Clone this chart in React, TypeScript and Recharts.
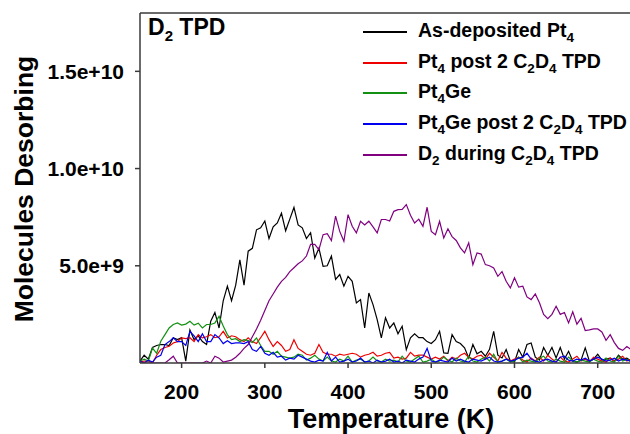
import { Legend, Line, LineChart, ReferenceLine, XAxis, YAxis } from "recharts";

// temperature grid (K)
const temps = [
  150, 155, 160, 165, 170, 175, 180, 185, 190, 195,
  200, 205, 210, 215, 220, 225, 230, 235, 240, 245,
  250, 255, 260, 265, 270, 275, 280, 285, 290, 295,
  300, 305, 310, 315, 320, 325, 330, 335, 340, 345,
  350, 355, 360, 365, 370, 375, 380, 385, 390, 395,
  400, 405, 410, 415, 420, 425, 430, 435, 440, 445,
  450, 455, 460, 465, 470, 475, 480, 485, 490, 495,
  500, 505, 510, 515, 520, 525, 530, 535, 540, 545,
  550, 555, 560, 565, 570, 575, 580, 585, 590, 595,
  600, 605, 610, 615, 620, 625, 630, 635, 640, 645,
  650, 655, 660, 665, 670, 675, 680, 685, 690, 695,
  700, 705, 710, 715, 720, 725, 730, 735, 740,
];

// molecules desorbing, in units of 1e9
const asDeposited = [
  0.1, 0.4, 0.2, 0.8, 0.9, 0.95, 0.95, 0.9, 1.3, 1.2,
  1.3, 0.1, 1.7, 1.2, 1.4, 1.1, 0.95, 2.15, 2.6, 1.8,
  3.2, 3.95, 3.2, 4.0, 5.3, 4.0, 5.75, 5.9, 6.85, 6.95,
  7.3, 6.4, 7.0, 7.2, 7.7, 6.8, 7.4, 8.0, 7.1, 6.95,
  6.4, 6.7, 5.4, 5.9, 4.97, 5.0, 5.5, 4.3, 4.55, 3.95,
  4.46, 4.2, 3.09, 3.26, 1.8, 3.6, 3.0, 2.23, 1.29, 2.32,
  1.8, 2.06, 1.5, 1.89, 0.69, 1.29, 1.5, 1.3, 1.3, 1.1,
  1.0, 1.2, 1.63, 0.52, 0.5, 1.46, 1.1, 1.0, 0.78, 0.26,
  0.95, 0.47, 0.6, 0.35, 0.7, 1.63, 0.4, 0.26, 0.69, 0.1,
  0.05, 0.69, 0.3, 0.95, 1.03, 0.3, 0.15, 0.8, 0.4, 0.8,
  0.26, 0.8, 0.2, 0.6, 0.1, 0.05, 0.15, 0.78, 0.1, 0.2,
  0.45, 0.15, 0.2, 0.25, 0.1, 0.4, 0.2, 0.25, 0.1,
];

const pt4Post = [
  0.05, 0.1, 0.1, 0, 0.4, 0.69, 0.8, 0.86, 1.03, 1.1,
  1.29, 1.25, 1.3, 1.1, 1.46, 1.29, 1.35, 1.46, 1.3, 1.35,
  1.63, 1.29, 1.4, 1.35, 1.2, 1.1, 1.29, 1.1, 1.0, 1.3,
  1.63, 1.2, 0.85, 1.1, 0.9, 0.6, 0.69, 1.2, 0.75, 0.6,
  0.45, 0.4, 0.5, 0.95, 0.55, 0.45, 0.45, 0.35, 0.45, 0.4,
  0.45, 0.5, 0.45, 0.3, 0.4, 0.45, 0.55, 0.35, 0.4, 0.5,
  0.55, 0.25, 0.3, 0.2, 0.25, 0.55, 0.35, 0.4, 0.4, 0.3,
  0.2, 0.3, 0.2, 0.35, 0.1, 0.3, 0.2, 0.4, 0.5, 0.3,
  0.2, 0.35, 0.4, 0.2, 0.5, 0.3, 0.1, 0.55, 0.25, 0.1,
  0.2, 0.3, 0.15, 0.05, 0.25, 0.1, 0.3, 0.1, 0.4, 0.2,
  0.05, 0.3, 0.1, 0.05, 0.2, 0.35, 0.1, 0.2, 0.05, 0.3,
  0.2, 0.1, 0.05, 0.25, 0.1, 0.2, 0.35, 0.1, 0.2,
];

const pt4Ge = [
  0.1, 0.2, 0.1, 0.77, 0.5, 1.12, 1.46, 1.8, 1.98, 2.06,
  1.95, 2.0, 2.15, 1.95, 2.05, 1.8, 1.98, 1.98, 2.06, 2.4,
  1.9, 1.46, 1.2, 1.25, 1.1, 1.2, 1.15, 1.05, 1.29, 0.9,
  0.6, 0.6, 0.45, 0.6, 0.35, 0.3, 0.25, 0.3, 0.45, 0.4,
  0.15, 0.25, 0.4, 0.2, 0.1, 0.3, 0.1, 0.05, 0.2, 0.1,
  0.35, 0.05, 0.15, 0.2, 0.05, 0.1, 0.3, 0.1, 0.05, 0.2,
  0.1, 0.15, 0.05, 0.35, 0.1, 0.05, 0.2, 0.35, 0.05, 0.1,
  0.2, 0.05, 0.1, 0.3, 0.15, 0.05, 0.25, 0.1, 0.05, 0.35,
  0.1, 0.05, 0.2, 0.3, 0.1, 0.45, 0.05, 0.1, 0.2, 0.05,
  0.1, 0.3, 0.05, 0.15, 0.1, 0.05, 0.25, 0.35, 0.1, 0.05,
  0.2, 0.1, 0.05, 0.3, 0.1, 0.05, 0.15, 0.1, 0.05, 0.2,
  0.1, 0.05, 0.25, 0.1, 0.05, 0.35, 0.1, 0.2, 0.05,
];

const pt4GePost = [
  0.1, 0, 0.15, 0.05, 0.3, 0.4, 0.95, 1.1, 1.29, 1.1,
  1.1, 0.9, 1.63, 1.4, 1.1, 1.5, 1.1, 1.1, 1.46, 1.29,
  1.0, 1.15, 1.0, 1.03, 1.03, 1.0, 1.1, 0.69, 0.6, 0.85,
  0.5, 0.4, 0.55, 0.3, 0.35, 0.15, 0.25, 0.2, 0.4, 0.3,
  0.2, 0.1, 0.05, 0.15, 0.1, 0.55, 0.1, 0.3, 0.05, 0.1,
  0.2, 0.05, 0.1, 0.25, 0.05, 0.1, 0, 0.15, 0.05, 0.1,
  0.2, 0.05, 0.1, 0, 0.15, 0.1, 0.05, 0.2, 0.3, 0.75,
  0.1, 0.05, 0.15, 0.1, 0.05, 0.25, 0.1, 0.2, 0.1, 0.05,
  0.2, 0.15, 0.1, 0.2, 0.3, 0.1, 0.05, 0.1, 0.2, 0.1,
  0.15, 0.25, 0.3, 0.5, 0.2, 0.1, 0.05, 0.15, 0.2, 0.1,
  0.05, 0.3, 0.35, 0.15, 0.1, 0.2, 0.15, 0.25, 0.1, 0.2,
  0.3, 0.2, 0.1, 0.15, 0.25, 0.1, 0.2, 0.15, 0.1,
];

const d2DuringC2D4 = [
  0, 0, 0, 0, 0, 0, 0, 0.17, 0.35, 0,
  0, 0, 0, 0, 0, 0, 0.1, 0, 0.35, 0.25,
  0.05, 0.1, 0.15, 0.3, 0.5, 0.75, 0.95, 1.35, 1.75, 2.2,
  2.7, 3.2, 3.55, 3.9, 4.2, 4.4, 4.7, 4.9, 5.1, 5.25,
  5.5, 6.1, 6.1, 5.83, 6.6, 6.65, 6.3, 7.55, 6.77, 6.26,
  7.63, 7.03, 6.69, 7.29, 7.1, 7.29, 7.0, 6.69, 7.38, 7.38,
  7.3, 7.8, 7.89, 7.9, 8.15, 7.6, 7.2, 7.4, 7.03, 8.01,
  6.77, 6.6, 7.29, 6.43, 6.9, 6.5, 6.3, 5.92, 5.66, 6.18,
  5.06, 5.66, 5.6, 5.06, 5.0, 4.89, 4.46, 4.7, 4.2, 3.86,
  4.38, 3.9, 3.95, 3.4, 3.26, 3.55, 3.1, 2.5, 2.28, 2.5,
  2.92, 2.5, 2.6, 2.06, 2.63, 2.0, 2.3, 1.67, 1.7, 1.75,
  1.75, 1.6, 1.17, 1.46, 1.05, 0.75, 0.65, 0.85, 0.7,
];

const xTicks = [200, 300, 400, 500, 600, 700];
const yTicks = [5, 10, 15];
const legendRowTops = [16, 47, 77, 108, 139];

const FONT = "'Liberation Sans', Arial, Helvetica, sans-serif";
const AXIS = "#3a3a3a";

const series = [
  { key: "asDeposited", color: "#000000", label: ["As-deposited Pt", "4"] },
  { key: "pt4Post", color: "#ee0000", label: ["Pt", "4", " post 2 C", "2", "D", "4", " TPD"] },
  { key: "pt4Ge", color: "#119011", label: ["Pt", "4", "Ge"] },
  { key: "pt4GePost", color: "#0000ee", label: ["Pt", "4", "Ge post 2 C", "2", "D", "4", " TPD"] },
  { key: "d2", color: "#800080", label: ["D", "2", " during C", "2", "D", "4", " TPD"] },
];

const data = temps.map((t, i) => ({
  t,
  asDeposited: asDeposited[i],
  pt4Post: pt4Post[i],
  pt4Ge: pt4Ge[i],
  pt4GePost: pt4GePost[i],
  d2: d2DuringC2D4[i],
}));

// alternating pieces: normal text, subscript, normal, subscript...
function Rich({ parts }: { parts: string[] }) {
  return (
    <>
      {parts.map((p, i) =>
        i % 2 === 1 ? (
          <span key={i} style={{ fontSize: 13.5, position: "relative", top: 5 }}>
            {p}
          </span>
        ) : (
          <span key={i}>{p}</span>
        ),
      )}
    </>
  );
}

function LegendBox() {
  return (
    <div style={{ position: "relative", width: 630, height: 180, fontFamily: FONT, fontWeight: "bold" }}>
      <div style={{ position: "absolute", left: 148, top: 16, fontSize: 23, lineHeight: 1, whiteSpace: "nowrap" }}>
        D<span style={{ fontSize: 15, position: "relative", top: 6 }}>2</span> TPD
      </div>
      {series.map((s, i) => (
        <div
          key={s.key}
          style={{
            position: "absolute",
            left: 363,
            top: legendRowTops[i],
            height: 30,
            display: "flex",
            alignItems: "center",
            whiteSpace: "nowrap",
          }}
        >
          <div style={{ width: 44, height: 2, background: s.color, marginTop: 2 }} />
          <div style={{ marginLeft: 11, fontSize: 19.5, lineHeight: 1, color: "#000" }}>
            <Rich parts={s.label} />
          </div>
        </div>
      ))}
    </div>
  );
}

export default function App() {
  return (
    <div style={{ position: "absolute", left: 0, top: 0, width: 630, height: 434, overflow: "hidden", background: "#fff" }}>
      <LineChart width={640} height={434} data={data} margin={{ top: 13, right: 9, bottom: 0, left: 0 }}>
        <XAxis
          dataKey="t"
          type="number"
          domain={[150, 740]}
          ticks={xTicks}
          allowDataOverflow
          height={71}
          tickSize={5}
          tickMargin={16}
          stroke={AXIS}
          strokeWidth={1.5}
          tick={{ fill: "#000", fontSize: 21, fontWeight: "bold", fontFamily: FONT }}
          label={() => (
            <text x={391} y={428} textAnchor="middle" fontSize={27} fontWeight="bold" fontFamily={FONT} fill="#000">
              Temperature (K)
            </text>
          )}
        />
        <YAxis
          type="number"
          domain={[0, 18]}
          ticks={yTicks}
          allowDataOverflow
          width={140}
          tickSize={5}
          tickMargin={11}
          stroke={AXIS}
          strokeWidth={1.5}
          tickFormatter={(v: number) => (v * 1e9).toExponential(1)}
          tick={{ fill: "#000", fontSize: 21, fontWeight: "bold", fontFamily: FONT }}
          label={() => (
            <text
              x={33}
              y={189}
              transform="rotate(-90 33 189)"
              textAnchor="middle"
              fontSize={26.5}
              fontWeight="bold"
              fontFamily={FONT}
              fill="#000"
            >
              Molecules Desorbing
            </text>
          )}
        />
        <ReferenceLine y={18} stroke={AXIS} strokeWidth={1.5} />
        <Legend
          verticalAlign="middle"
          layout="horizontal"
          wrapperStyle={{ position: "absolute", left: 0, top: 0, width: 630, height: 180 }}
          content={() => <LegendBox />}
        />
        {series.map((s) => (
          <Line
            key={s.key}
            type="linear"
            dataKey={s.key}
            stroke={s.color}
            strokeWidth={1.2}
            dot={false}
            activeDot={false}
            isAnimationActive={false}
          />
        ))}
      </LineChart>
    </div>
  );
}
